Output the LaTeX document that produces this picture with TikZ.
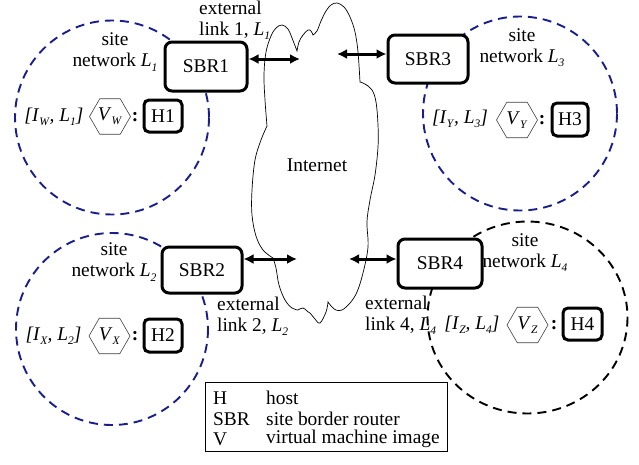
\documentclass[tikz,border=0pt]{standalone}
\usepackage{fontspec}
\setmainfont{Liberation Serif}
\usetikzlibrary{arrows.meta,shapes.geometric}
\definecolor{navy}{RGB}{25,30,140}
\newcommand\sbs[1]{\raisebox{-0.5ex}{\fontsize{11.5}{11.5}\selectfont\textit{#1}}}
\newcommand\bigtxt{\fontsize{19.4}{21}\selectfont}
\begin{document}
\begin{tikzpicture}[x=1pt,y=-1pt,
  every node/.style={font=\bigtxt},
  sbrbox/.style={draw,line width=3pt,rounded corners=7pt,fill=white,inner sep=0pt},
  hostbox/.style={draw,line width=3pt,rounded corners=5pt,fill=white,inner sep=0pt},
  hexa/.style={draw=black!75,line width=0.6pt,regular polygon,regular polygon sides=6,minimum size=41pt,inner sep=0pt},
  sitecircle/.style={draw=navy,line width=1.9pt,dash pattern=on 9pt off 6pt},
  sitecircleK/.style={draw=black,line width=1.9pt,dash pattern=on 9pt off 6pt},
  link/.style={line width=3pt,{Latex[length=10pt,width=10pt]}-{Latex[length=10pt,width=10pt]}},
  lbl/.style={align=center,inner sep=0pt},
  lbll/.style={align=left,inner sep=0pt,anchor=west},
]
\useasboundingbox (0,0) rectangle (639,464);

% site circles
\draw[sitecircle] (112,117.5) circle (97);
\draw[sitecircle] (520,113.5) circle (97);
\draw[sitecircle] (112,329) circle (96);
\draw[sitecircleK] (527.5,317.5) ellipse (100 and 96);

% cloud
\draw[line width=0.7pt]
  plot[smooth,tension=0.6] coordinates {(267,126) (265,100) (264,75) (266,52) (271,36) (276,28) (282,25) (288,29) (292,38) (297,51)}
  -- plot[smooth,tension=0.6] coordinates {(297,51) (299,42) (303,35) (308,30) (311,31) (313,35)}
  -- plot[smooth,tension=0.6] coordinates {(313,35) (317,31) (321,21) (326,11) (331,5) (337,3) (344,7) (350,17) (355,32) (358,52) (360,82)}
  -- plot[smooth,tension=0.6] coordinates {(360,82) (365,84) (372,90) (376,102) (378,125) (378,147) (375,175) (370,200) (367,222) (368,247) (363,273) (357,292) (350,303) (342,310) (336,310) (332,307) (328,302)}
  -- plot[smooth,tension=0.6] coordinates {(328,302) (326,312) (320,323) (315,319) (310,313) (308,312)}
  -- plot[smooth,tension=0.6] coordinates {(308,312) (303,308) (298,310)}
  -- plot[smooth,tension=0.6] coordinates {(298,310) (292,308) (285,300) (279,285) (276,268) (273,258)}
  -- plot[smooth,tension=0.6] coordinates {(273,258) (263,250) (256,236) (252,215) (252,190) (255,160) (261,140) (267,126)}
  -- cycle;
\node[inner sep=0pt] (inet) at (317,165) {Internet};

% routers
\node[sbrbox,minimum width=82pt,minimum height=49pt] (SBR1) at (206,66.5) {SBR1};
\node[sbrbox,minimum width=80pt,minimum height=48pt] (SBR3) at (428,59) {SBR3};
\node[sbrbox,minimum width=80pt,minimum height=46pt] (SBR2) at (202,270) {SBR2};
\node[sbrbox,minimum width=84pt,minimum height=49pt] (SBR4) at (440,263.5) {SBR4};

% links
\coordinate (e1) at (300,59);
\coordinate (e3) at (337,54);
\coordinate (e2) at (297,259);
\coordinate (e4) at (349,259);
\draw[link] (SBR1.east |- e1) -- (e1);
\draw[link] (e3) -- (SBR3.west |- e3);
\draw[link] (SBR2.east |- e2) -- (e2);
\draw[link] (e4) -- (SBR4.west |- e4);

% link labels
\node[lbll] (ext1) at (199,20) {external\\link 1, \textit{L}\sbs{1}};
\node[lbll] (ext2) at (217,316) {external\\link 2, \textit{L}\sbs{2}};
\node[lbll] (ext4) at (365,315) {external\\link 4, \textit{L}\sbs{4}};

% site labels
\node[lbl] (site1) at (115,52) {site\\network \textit{L}\sbs{1}};
\node[lbl] (site3) at (522,47.5) {site\\network \textit{L}\sbs{3}};
\node[lbl] (site2) at (114,262) {site\\network \textit{L}\sbs{2}};
\node[lbl] (site4) at (525,252.5) {site\\network \textit{L}\sbs{4}};

% hosts
\node[hostbox,minimum width=38pt,minimum height=32pt] (H1) at (163,116) {H1};
\node[hostbox,minimum width=36pt,minimum height=33pt] (H3) at (570,119.5) {H3};
\node[hostbox,minimum width=38pt,minimum height=33pt] (H2) at (163,335.5) {H2};
\node[hostbox,minimum width=39pt,minimum height=32pt] (H4) at (582.5,324) {H4};

% images
\node[hexa] (V1) at (110,116.5) {\textit{V}\sbs{W}};
\node[hexa] (V3) at (517,120) {\textit{V}\sbs{Y}};
\node[hexa] (V2) at (109.5,336) {\textit{V}\sbs{X}};
\node[hexa] (V4) at (527.5,325) {\textit{V}\sbs{Z}};

% colons
\node[inner sep=0pt] (c1) at (135,117) {\textbf{:}};
\node[inner sep=0pt] (c3) at (542,120) {\textbf{:}};
\node[inner sep=0pt] (c2) at (135,336) {\textbf{:}};
\node[inner sep=0pt] (c4) at (554,325) {\textbf{:}};

% identifiers
\node[inner sep=0pt] (id1) at (54,117) {\textit{[I}\sbs{W}\textit{, L}\sbs{1}\textit{]}};
\node[inner sep=0pt] (id3) at (460,119) {\textit{[I}\sbs{Y}\textit{, L}\sbs{3}\textit{]}};
\node[inner sep=0pt] (id2) at (53.5,336) {\textit{[I}\sbs{X}\textit{, L}\sbs{2}\textit{]}};
\node[inner sep=0pt] (id4) at (472,325) {\textit{[I}\sbs{Z}\textit{, L}\sbs{4}\textit{]}};

% legend
\node[draw,line width=0.8pt,minimum width=242pt,minimum height=69pt,inner sep=0pt] (leg) at (326,416.5) {};
\node[lbll] (k1) at (213,398) {H};
\node[lbll] (k2) at (213,419) {SBR};
\node[lbll] (k3) at (213,439) {V};
\node[lbll] (d1) at (266,398) {host};
\node[lbll] (d2) at (266,419) {site border router};
\node[lbll] (d3) at (266,439) {virtual machine image};
\end{tikzpicture}
\end{document}
